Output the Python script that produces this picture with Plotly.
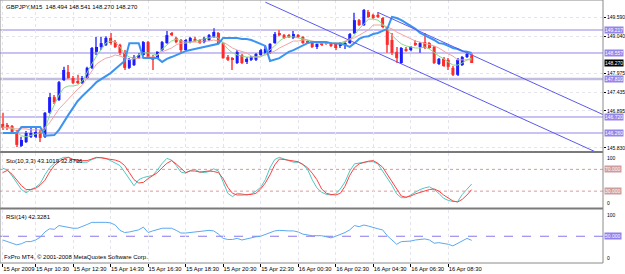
import plotly.graph_objects as go

# ---------------- data ----------------
tick_idx = [0, 7, 15, 23, 31, 39, 47, 55, 63, 71, 79, 87, 95]
tick_text = ["15 Apr 2009", "15 Apr 10:30", "15 Apr 12:30", "15 Apr 14:30", "15 Apr 16:30",
             "15 Apr 18:30", "15 Apr 20:30", "15 Apr 22:30", "16 Apr 00:30", "16 Apr 02:30",
             "16 Apr 04:30", "16 Apr 06:30", "16 Apr 08:30"]

open_ = [146.52,146.49,146.46,146.29,145.89,146.00,146.15,146.15,146.29,146.15,
         146.84,147.29,147.21,147.78,148.01,147.84,147.75,147.70,147.84,148.13,
         148.59,148.73,148.79,148.99,148.87,148.79,148.56,148.13,148.21,148.41,
         148.50,148.87,148.44,148.41,148.64,148.84,149.13,148.99,148.93,148.64,
         148.87,148.96,148.93,148.87,148.93,149.02,149.13,148.84,148.44,148.41,
         148.27,148.50,148.30,148.36,148.36,148.50,148.56,148.56,148.84,149.13,
         149.07,149.07,148.99,149.07,149.02,148.90,148.87,148.73,148.84,148.84,
         148.84,148.82,148.76,148.79,148.84,149.13,149.50,149.36,149.73,149.65,
         149.65,149.56,149.22,148.93,148.59,148.27,148.67,148.64,148.84,148.73,
         148.87,148.84,148.73,148.24,148.39,148.36,148.13,147.93,148.21,148.44,
         148.494]
high = [146.84,146.55,146.49,146.35,146.15,146.32,146.43,146.43,146.35,146.86,
        147.41,147.35,147.75,148.16,148.21,147.90,147.93,147.90,148.16,148.73,
        149.02,149.02,149.04,149.13,148.93,148.82,148.64,148.41,148.50,148.56,
        148.90,148.90,148.50,148.61,148.90,149.19,149.16,149.02,148.96,148.96,
        149.02,149.02,148.96,149.02,149.10,149.27,149.16,148.87,148.50,148.44,
        148.64,148.53,148.44,148.47,148.56,148.67,148.76,148.84,149.16,149.22,
        149.10,149.10,149.19,149.10,149.04,148.93,148.90,148.84,148.87,148.87,
        148.87,148.84,148.87,148.90,149.13,149.71,149.53,149.82,149.79,149.68,
        149.73,149.59,149.30,149.13,148.73,148.73,148.73,148.76,148.93,148.87,
        149.13,148.87,148.76,148.41,148.44,148.41,148.18,148.41,148.47,148.59,
        148.541]
low = [146.35,146.35,146.26,145.86,145.86,145.97,146.12,146.12,146.00,146.12,
       146.81,147.09,147.18,147.75,147.81,147.67,147.67,147.67,147.81,148.10,
       148.50,148.64,148.76,148.79,148.70,148.50,148.07,148.10,148.18,148.39,
       148.47,148.39,148.07,148.39,148.61,148.82,149.04,148.84,148.56,148.61,
       148.84,148.87,148.82,148.84,148.90,148.99,148.82,148.39,148.33,148.07,
       148.24,148.24,148.24,148.33,148.33,148.47,148.53,148.53,148.82,149.04,
       148.96,148.99,148.96,148.99,148.82,148.82,148.70,148.67,148.76,148.79,
       148.73,148.64,148.70,148.67,148.82,149.10,149.33,149.33,149.56,149.53,
       149.56,149.27,148.56,148.50,148.27,148.24,148.59,148.61,148.76,148.56,
       148.67,148.67,148.24,148.21,148.16,148.07,147.90,147.90,148.18,148.41,
       148.270]
close = [146.41,146.41,146.29,145.92,146.06,146.26,146.26,146.29,146.12,146.84,
         147.29,147.15,147.72,148.07,147.84,147.70,147.72,147.84,148.13,148.70,
         148.73,148.84,148.99,148.84,148.73,148.56,148.13,148.36,148.44,148.50,
         148.87,148.41,148.36,148.59,148.87,149.07,149.07,148.87,148.64,148.93,
         148.99,148.90,148.84,148.99,149.07,149.16,148.84,148.41,148.36,148.36,
         148.59,148.27,148.39,148.44,148.53,148.64,148.67,148.82,149.10,149.07,
         148.99,149.02,149.10,149.02,148.84,148.84,148.73,148.82,148.79,148.82,
         148.76,148.70,148.82,148.84,149.10,149.50,149.36,149.79,149.59,149.56,
         149.59,149.30,148.79,148.56,148.41,148.70,148.64,148.73,148.79,148.84,
         148.70,148.70,148.27,148.39,148.18,148.16,147.93,148.36,148.44,148.53,
         148.270]

ma_blue = [146.26,146.26,146.26,146.26,146.43,146.43,146.43,146.43,146.43,146.18,
           146.18,146.20,146.35,146.58,146.78,146.98,147.18,147.32,147.44,147.58,
           147.72,147.81,147.90,147.98,148.10,148.21,148.33,148.84,148.84,148.84,
           148.41,148.41,148.41,148.41,148.30,148.39,148.44,148.50,148.56,148.61,
           148.64,148.67,148.70,148.73,148.76,148.79,148.82,148.99,148.99,148.99,
           148.99,148.96,148.96,148.93,148.87,148.82,148.76,148.33,148.36,148.41,
           148.50,148.59,148.64,148.70,148.76,148.84,148.87,148.87,148.87,148.87,
           148.84,148.84,148.82,148.79,148.73,148.84,148.96,149.02,149.04,149.10,
           149.13,149.19,149.25,149.59,149.56,149.50,149.42,149.33,149.25,149.13,
           149.07,148.99,148.93,148.84,148.82,148.76,148.70,148.67,148.61,148.59,
           148.56]
ma_green = [146.43,146.43,146.41,146.29,146.18,146.15,146.20,146.23,146.26,146.35,
            146.78,147.09,147.35,147.55,147.61,147.61,147.64,147.75,148.01,148.24,
            148.47,148.67,148.84,148.90,148.87,148.73,148.53,148.44,148.41,148.50,
            148.56,148.56,148.53,148.50,148.67,148.79,148.90,148.96,148.90,148.87,
            148.87,148.90,148.93,148.96,148.99,149.02,148.99,148.84,148.67,148.56,
            148.50,148.47,148.44,148.44,148.44,148.44,148.53,148.64,148.76,148.90,
            148.99,149.02,149.02,148.99,148.96,148.93,148.87,148.84,148.84,148.84,
            148.84,148.84,148.84,148.87,148.93,149.07,149.25,149.39,149.53,149.53,
            149.50,149.39,149.22,149.07,148.93,148.82,148.76,148.73,148.70,148.70,
            148.73,148.67,148.56,148.47,148.39,148.30,148.21,148.21,148.27,148.36,
            148.41]
ma_salmon = [146.41,146.41,146.38,146.38,146.38,146.38,146.35,146.35,146.35,146.41,
             146.55,146.75,146.95,147.09,147.24,147.38,147.52,147.64,147.84,148.07,
             148.24,148.33,148.41,148.44,148.50,148.47,148.41,148.36,148.39,148.41,
             148.41,148.44,148.44,148.50,148.59,148.64,148.70,148.79,148.84,148.84,
             148.87,148.87,148.87,148.90,148.90,148.93,148.90,148.87,148.79,148.70,
             148.64,148.59,148.56,148.47,148.44,148.47,148.50,148.56,148.61,148.70,
             148.76,148.84,148.90,148.90,148.93,148.93,148.90,148.87,148.87,148.87,
             148.84,148.84,148.84,148.90,148.96,148.99,149.07,149.13,149.22,149.36,
             149.36,149.36,149.30,149.25,149.16,149.10,149.02,148.96,148.90,148.87,
             148.84,148.79,148.76,148.70,148.61,148.53,148.47,148.36,148.36,148.36,
             148.36]

sto_main = [72,69,58,45,33,27,33,37,44,60,73,81,88,92,92,88,83,83,83,88,
            91,92,90,86,82,77,65,52,40,51,55,57,59,69,81,90,87,77,65,63,
            68,70,65,64,66,71,67,47,26,20,26,25,23,25,30,37,51,73,88,92,
            89,85,83,83,79,70,51,36,28,24,23,25,34,47,67,80,82,83,84,84,
            80,67,54,41,25,18,18,23,28,33,36,38,33,26,17,13,11,11,24,33,
            43.1019]
sto_signal = [64,68,61,51,40,33,33,35,41,50,65,77,84,89,92,88,86,86,86,89,
              92,91,90,89,87,84,77,64,51,45,46,53,58,64,73,81,86,80,72,64,
              67,67,65,66,67,66,64,53,37,26,23,23,23,24,26,34,45,60,78,89,
              88,87,85,84,79,73,63,51,34,26,24,23,26,39,59,73,80,83,85,86,
              81,74,61,47,33,21,19,21,25,28,30,33,34,30,23,17,12,10,15,23,
              32.8736]
sto_levels = [70, 30]
rsi = [43,40,37,34,36,40,40,43,48,58,64,63,70,68,66,65,65,68,72,76,
       76,77,76,75,71,61,57,58,60,62,67,57,60,62,65,65,65,61,56,56,
       57,58,58,59,61,60,54,46,44,44,46,43,45,48,49,50,53,57,60,61,
       60,60,60,58,54,52,51,51,51,49,47,50,53,57,62,70,68,71,69,66,
       64,62,51,43,35,40,40,41,43,44,45,43,37,38,37,35,32,37,41,46,
       42.3281]
rsi_level = 50

hlines = [149.217, 148.557, 147.810, 146.720, 146.260]
hline_thick = [False, False, True, False, False]
chan_lower_bars, chan_lower_prices = [56, 100], [150.015, 147.33]
chan_upper_bars, chan_upper_prices = [80, 100], [149.722, 148.50]
price_ticks = [149.590, 149.040, 147.975, 147.435, 146.895, 145.830]

# ---------------- styling ----------------
XR = [-0.576, 128.0]
YR = [145.744, 150.078]
BULL, BEAR = "#1c1cff", "#ff2a2a"
BULL_W, BEAR_W = "#6c6cff", "#ff6a6a"
GRID = "#e4e4ec"
FONT = "Liberation Sans, Arial, sans-serif"
RFONT = 5

fig = go.Figure()
x = list(range(len(close)))
up = [c >= o for o, c in zip(open_, close)]

for is_up, col in ((True, BULL_W), (False, BEAR_W)):
    xs = [i for i in x if up[i] == is_up]
    fig.add_trace(go.Bar(x=xs, base=[low[i] for i in xs], y=[high[i] - low[i] for i in xs],
                         width=0.22, marker=dict(color=col, line=dict(width=0)),
                         xaxis="x", yaxis="y", hoverinfo="skip"))
for is_up, col in ((True, BULL), (False, BEAR)):
    xs = [i for i in x if up[i] == is_up]
    fig.add_trace(go.Bar(x=xs, base=[min(open_[i], close[i]) for i in xs],
                         y=[max(abs(close[i] - open_[i]), 0.02) for i in xs],
                         width=0.64, marker=dict(color=col, line=dict(width=0)),
                         xaxis="x", yaxis="y", hoverinfo="skip"))

fig.add_trace(go.Scatter(x=x, y=ma_salmon, mode="lines", line=dict(color="#f4a4a0", width=1), xaxis="x", yaxis="y"))
fig.add_trace(go.Scatter(x=x, y=ma_green, mode="lines", line=dict(color="#84dc84", width=1), xaxis="x", yaxis="y"))
fig.add_trace(go.Scatter(x=x, y=ma_blue, mode="lines", line=dict(color="#3a94f0", width=2), xaxis="x", yaxis="y"))

def ray(bars, prices):
    slope = (prices[1] - prices[0]) / (bars[1] - bars[0])
    return [bars[0], XR[1]], [prices[0], prices[0] + slope * (XR[1] - bars[0])]

for b, p in ((chan_lower_bars, chan_lower_prices), (chan_upper_bars, chan_upper_prices)):
    rx, ry = ray(b, p)
    fig.add_trace(go.Scatter(x=rx, y=ry, mode="lines", line=dict(color="#5a5aee", width=1), xaxis="x", yaxis="y"))

fig.add_trace(go.Scatter(x=x, y=sto_main, mode="lines", line=dict(color="#4cc8c4", width=1), xaxis="x2", yaxis="y2"))
fig.add_trace(go.Scatter(x=x, y=sto_signal, mode="lines", line=dict(color="#ff4040", width=1), xaxis="x2", yaxis="y2"))
fig.add_trace(go.Scatter(x=x, y=rsi, mode="lines", line=dict(color="#5ca8f0", width=1), xaxis="x3", yaxis="y3"))

shapes = []
for v, thick in zip(hlines, hline_thick):
    shapes.append(dict(type="line", xref="x domain", x0=0, x1=1, yref="y", y0=v, y1=v,
                       line=dict(color="#c2bee0" if thick else "#9385e6", width=2.5 if thick else 1), layer="below"))
for v in sto_levels:
    shapes.append(dict(type="line", xref="x2 domain", x0=0, x1=1, yref="y2", y0=v, y1=v,
                       line=dict(color="#e09898", width=1, dash="dot"), layer="below"))
shapes.append(dict(type="line", xref="x3 domain", x0=0, x1=1, yref="y3", y0=rsi_level, y1=rsi_level,
                   line=dict(color="#8877ee", width=1, dash="dash"), layer="below"))
for y0, y1 in ((0.4183, 0.4259), (0.2034, 0.2110)):
    shapes.append(dict(type="rect", xref="paper", yref="paper", x0=0, x1=1, y0=y0, y1=y1,
                       fillcolor="#7a7a7a", line=dict(width=0)))
shapes.append(dict(type="rect", xref="paper", yref="paper", x0=0, x1=1, y0=0, y1=1,
                   line=dict(color="#8a8a8a", width=1)))

ann = []
def box(text, y, yref, bg, fc="white"):
    ann.append(dict(text=text, x=1, xref="paper", xanchor="left", xshift=1, y=y, yref=yref,
                    yanchor="middle", showarrow=False, bgcolor=bg, borderpad=0,
                    font=dict(size=RFONT, color=fc, family=FONT)))
for v in hlines:
    box(f"{v:.3f}", v, "y", "#9586ea")
box(f"{close[-1]:.3f}", close[-1], "y", "black")
for v in sto_levels:
    box(f"{v:.3f}", v, "y2", "#cf9d9d")
box(f"{rsi_level:.3f}", rsi_level, "y3", "#8f80ee")

def txt(text, x, xref, y, yref, xa="left", ya="middle", ys=0, size=6):
    ann.append(dict(text=text, x=x, xref=xref, y=y, yref=yref, xanchor=xa, yanchor=ya, yshift=ys,
                    showarrow=False, font=dict(size=size, color="black", family=FONT)))

txt(f"GBPJPY,M15  {open_[-1]:.3f} {high[-1]:.3f} {low[-1]:.3f} {close[-1]:.3f}", 0.006, "paper", 1, "y domain", ya="top", ys=-2)
txt(f"Sto(10,3,3) {sto_main[-1]:.4f} {sto_signal[-1]:.4f}", 0.006, "paper", 1, "y2 domain", ya="top", ys=-3)
txt(f"RSI(14) {rsi[-1]:.4f}", 0.006, "paper", 1, "y3 domain", ya="top", ys=-2)
txt("FxPro MT4, © 2001-2008 MetaQuotes Software Corp.", 0.004, "paper", 0, "y3 domain", ya="bottom", ys=1)
for ref in ("y2", "y3"):
    txt("100", 1.004, "paper", 1, ref + " domain", ya="top", size=RFONT)
    txt("0", 1.004, "paper", 0, ref + " domain", ya="bottom", size=RFONT)

xcommon = dict(range=XR, tickvals=tick_idx, showgrid=True, gridcolor=GRID, griddash="dot",
               gridwidth=1, zeroline=False, showline=False, automargin=False)
fig.update_layout(
    width=625, height=274, margin=dict(l=0, r=22, t=0, b=11),
    paper_bgcolor="white", plot_bgcolor="white", barmode="overlay", showlegend=False,
    font=dict(family=FONT, size=6, color="black"),
    xaxis=dict(domain=[0, 1], anchor="y", showticklabels=False, ticks="", **xcommon),
    xaxis2=dict(domain=[0, 1], anchor="y2", matches="x", showticklabels=False, ticks="", **xcommon),
    xaxis3=dict(domain=[0, 1], anchor="y3", matches="x", ticktext=tick_text, ticks="outside", ticklen=3,
                tickcolor="black", tickangle=0, ticklabelposition="outside right",
                tickfont=dict(size=5.8), **xcommon),
    yaxis=dict(domain=[0.4259, 1], range=YR, side="right", anchor="x", tickvals=price_ticks,
               ticktext=[f"{v:.3f}" for v in price_ticks], ticks="outside", ticklen=2, tickcolor="black",
               tickfont=dict(size=RFONT), showgrid=True, gridcolor=GRID, griddash="dot", zeroline=False,
               automargin=False),
    yaxis2=dict(domain=[0.2110, 0.4183], range=[0, 100], side="right", anchor="x2",
                showticklabels=False, showgrid=False, zeroline=False, automargin=False),
    yaxis3=dict(domain=[0, 0.2034], range=[0, 100], side="right", anchor="x3",
                showticklabels=False, showgrid=False, zeroline=False, automargin=False),
    shapes=shapes, annotations=ann,
)
fig.write_html("out.html")
